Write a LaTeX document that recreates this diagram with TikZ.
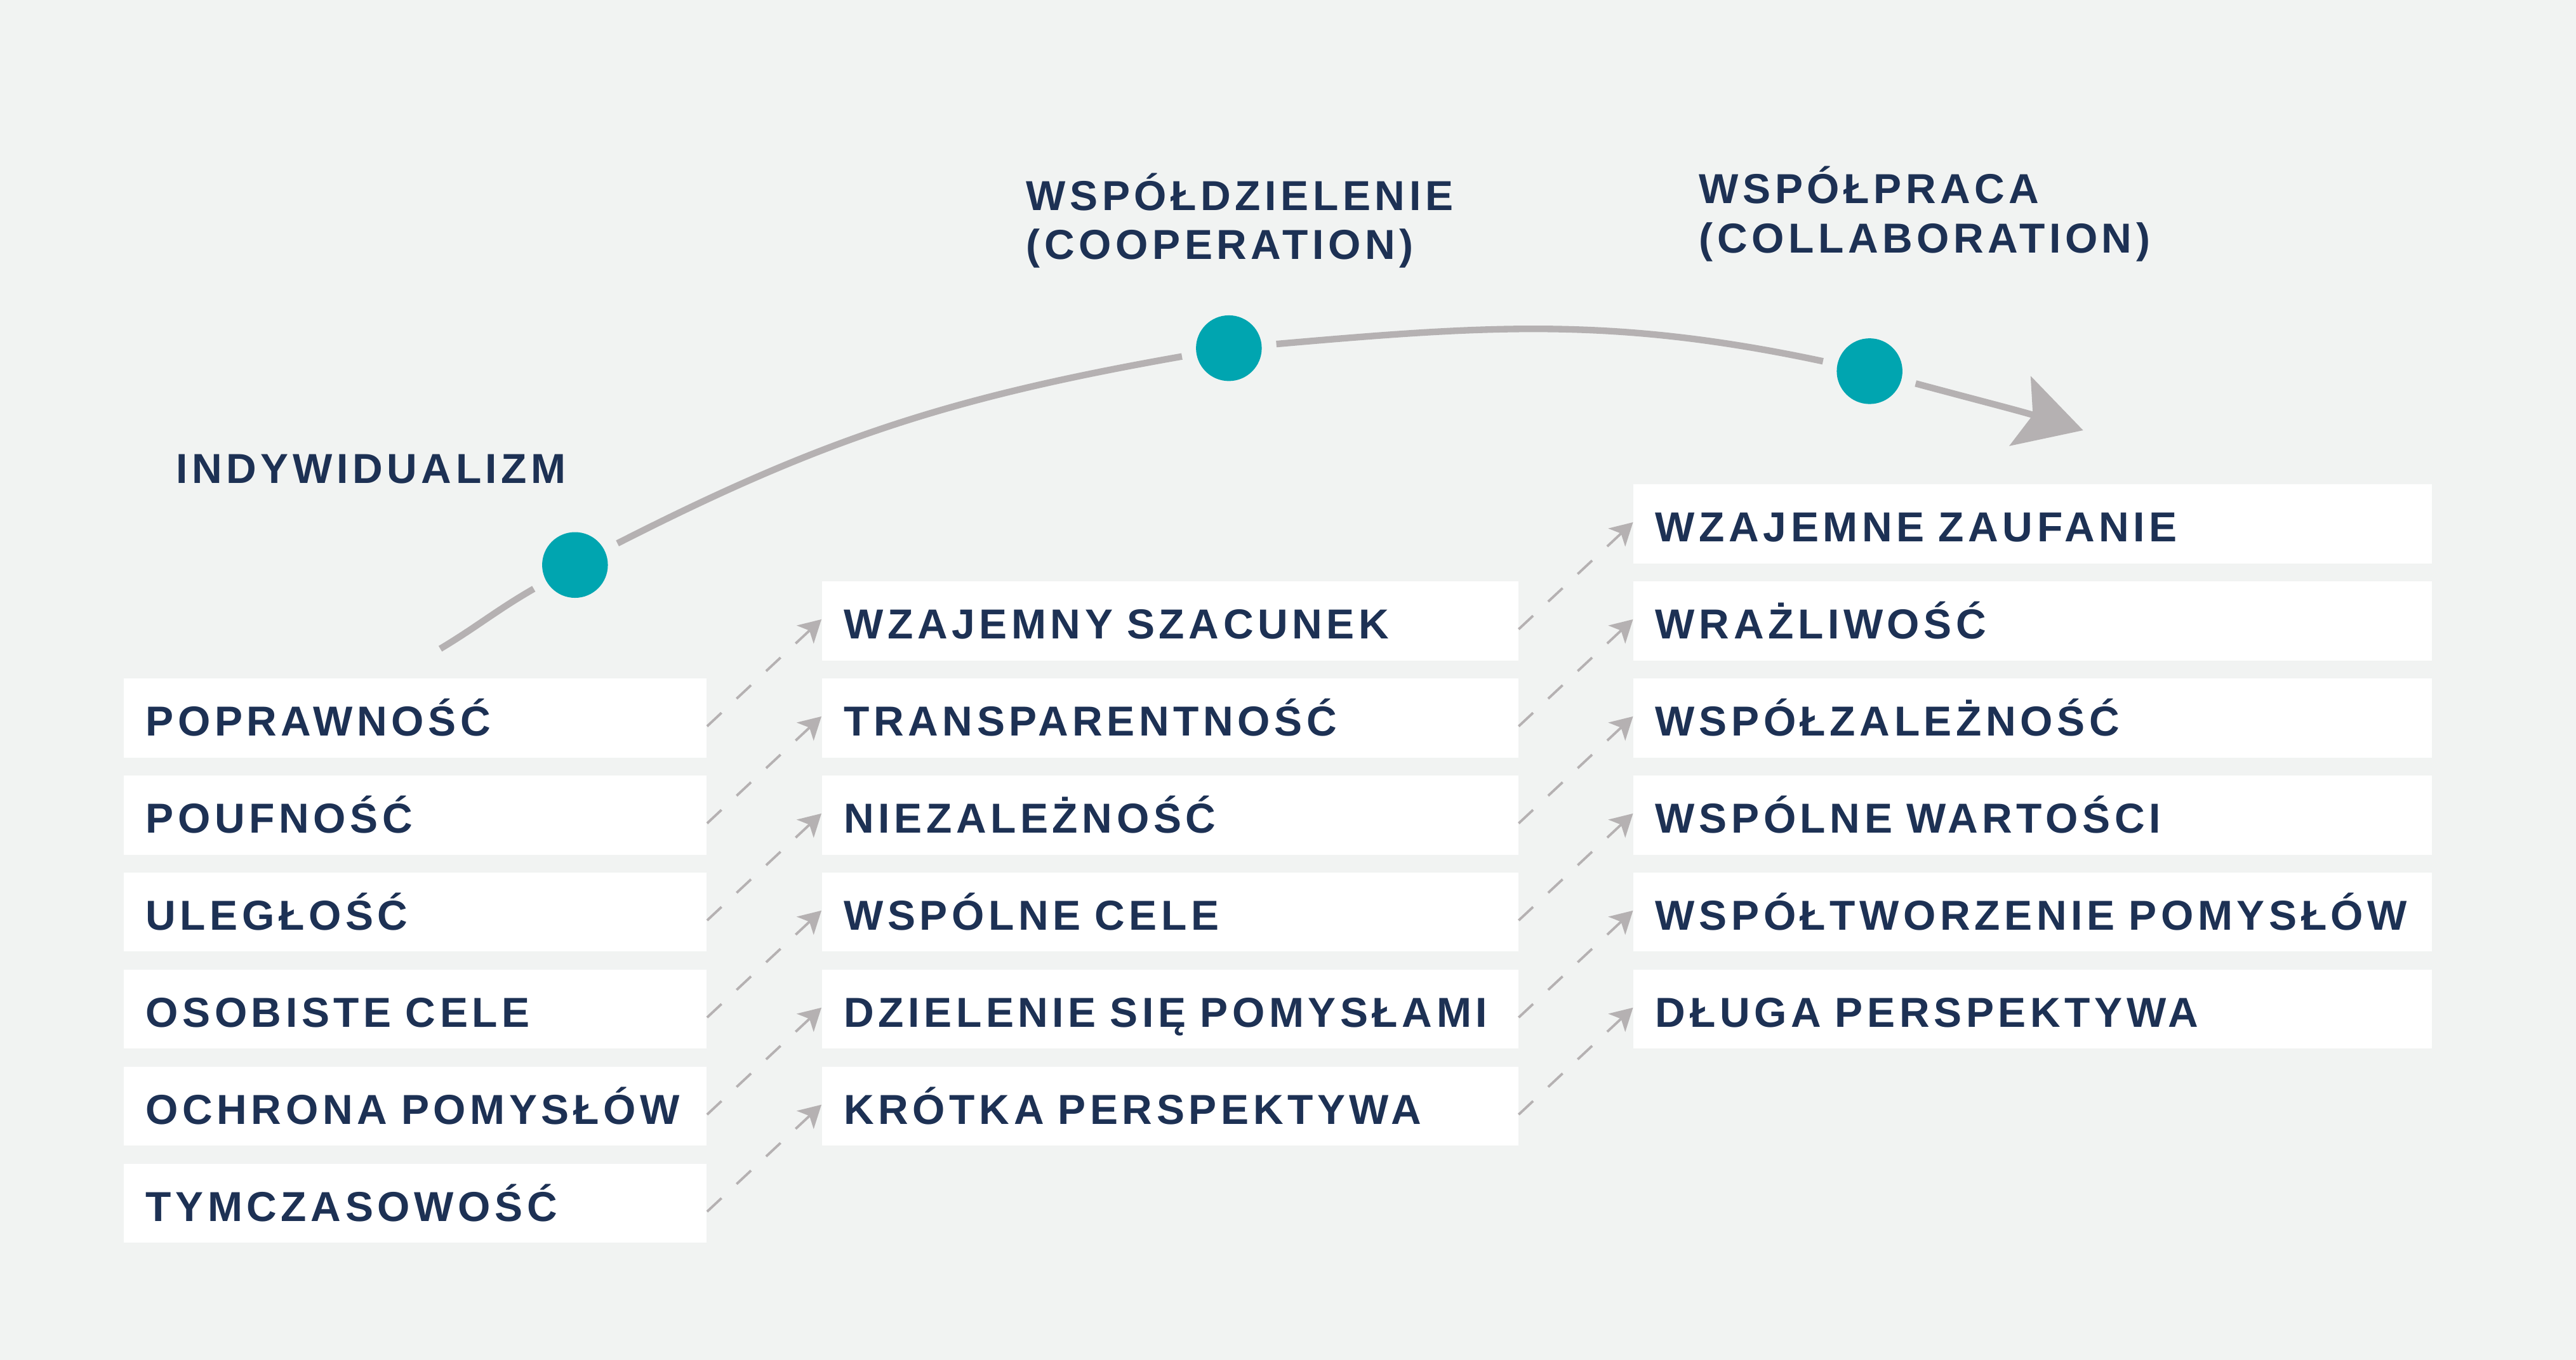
\documentclass[tikz,border=0pt]{standalone}
\usepackage{fontspec}
\newfontfamily\labfont{Liberation Sans}[LetterSpace=10]
\usetikzlibrary{arrows.meta}
\definecolor{bgfill}{HTML}{F1F3F2}
\definecolor{navy}{HTML}{1D3154}
\definecolor{dotcol}{HTML}{00A5B0}
\definecolor{lnk}{HTML}{B5B1B2}
\begin{document}
\begin{tikzpicture}[x=1pt, y=1pt,
  cell/.style={fill=white, anchor=west, minimum height=48pt, inner xsep=13.5pt, inner ysep=0pt, text height=21.6pt, text depth=0pt, align=left, text=navy, font=\labfont\bfseries\fontsize{25.5}{30}\selectfont},
  head/.style={anchor=base west, inner sep=0pt, align=left, text=navy, font=\labfont\bfseries\fontsize{25.5}{30}\selectfont},
  stage/.style={circle, fill=dotcol, minimum size=40pt, inner sep=0pt, outer sep=9pt},
  trend/.style={draw=lnk, line width=4pt},
  link/.style={draw=lnk, line width=1.5pt, dash pattern=on 12pt off 12.6pt, -{Stealth[length=13.5pt,width=15pt,inset=3.5pt]}}]
\fill[bgfill] (0,0) rectangle (1568,828);
\node[cell, text width=328pt] (ind1) at (75,390.8) {POPRAWNOŚĆ};
\node[cell, text width=328pt] (ind2) at (75,331.7) {POUFNOŚĆ};
\node[cell, text width=328pt] (ind3) at (75,272.6) {ULEGŁOŚĆ};
\node[cell, text width=328pt] (ind4) at (75,213.5) {OSOBISTE CELE};
\node[cell, text width=328pt] (ind5) at (75,154.4) {OCHRONA POMYSŁÓW};
\node[cell, text width=328pt] (ind6) at (75,95.3) {TYMCZASOWOŚĆ};
\node[cell, text width=397pt] (coop1) at (500,449.9) {WZAJEMNY SZACUNEK};
\node[cell, text width=397pt] (coop2) at (500,390.8) {TRANSPARENTNOŚĆ};
\node[cell, text width=397pt] (coop3) at (500,331.7) {NIEZALEŻNOŚĆ};
\node[cell, text width=397pt] (coop4) at (500,272.6) {WSPÓLNE CELE};
\node[cell, text width=397pt] (coop5) at (500,213.5) {DZIELENIE SIĘ POMYSŁAMI};
\node[cell, text width=397pt] (coop6) at (500,154.4) {KRÓTKA PERSPEKTYWA};
\node[cell, text width=459pt] (coll1) at (994,509) {WZAJEMNE ZAUFANIE};
\node[cell, text width=459pt] (coll2) at (994,449.9) {WRAŻLIWOŚĆ};
\node[cell, text width=459pt] (coll3) at (994,390.8) {WSPÓŁZALEŻNOŚĆ};
\node[cell, text width=459pt] (coll4) at (994,331.7) {WSPÓLNE WARTOŚCI};
\node[cell, text width=459pt] (coll5) at (994,272.6) {WSPÓŁTWORZENIE POMYSŁÓW};
\node[cell, text width=459pt] (coll6) at (994,213.5) {DŁUGA PERSPEKTYWA};
\draw[link] ([yshift=-5pt]ind1.east) -- ([yshift=1pt]coop1.west);
\draw[link] ([yshift=-5pt]ind2.east) -- ([yshift=1pt]coop2.west);
\draw[link] ([yshift=-5pt]ind3.east) -- ([yshift=1pt]coop3.west);
\draw[link] ([yshift=-5pt]ind4.east) -- ([yshift=1pt]coop4.west);
\draw[link] ([yshift=-5pt]ind5.east) -- ([yshift=1pt]coop5.west);
\draw[link] ([yshift=-5pt]ind6.east) -- ([yshift=1pt]coop6.west);
\draw[link] ([yshift=-5pt]coop1.east) -- ([yshift=1pt]coll1.west);
\draw[link] ([yshift=-5pt]coop2.east) -- ([yshift=1pt]coll2.west);
\draw[link] ([yshift=-5pt]coop3.east) -- ([yshift=1pt]coll3.west);
\draw[link] ([yshift=-5pt]coop4.east) -- ([yshift=1pt]coll4.west);
\draw[link] ([yshift=-5pt]coop5.east) -- ([yshift=1pt]coll5.west);
\draw[link] ([yshift=-5pt]coop6.east) -- ([yshift=1pt]coll6.west);
\node[head] (hInd) at (107,533.6) {INDYWIDUALIZM};
\node[head] (hCoop) at (624.5,670) {WSPÓŁDZIELENIE\\(COOPERATION)};
\node[head] (hColl) at (1034,674) {WSPÓŁPRACA\\(COLLABORATION)};
\node[stage] (st1) at (350,484) {};
\node[stage] (st2) at (748,616) {};
\node[stage] (st3) at (1138,602) {};
\coordinate (c0) at (268,433);
\coordinate (c4) at (1268,566);
\draw[trend, -{Stealth[length=40pt,width=44pt,inset=8pt]}] (c0) to[out=31,in=210] (st1) to[out=27,in=190] (st2) to[out=5,in=168] (st3) to[out=-15,in=163] (c4);
\end{tikzpicture}
\end{document}
